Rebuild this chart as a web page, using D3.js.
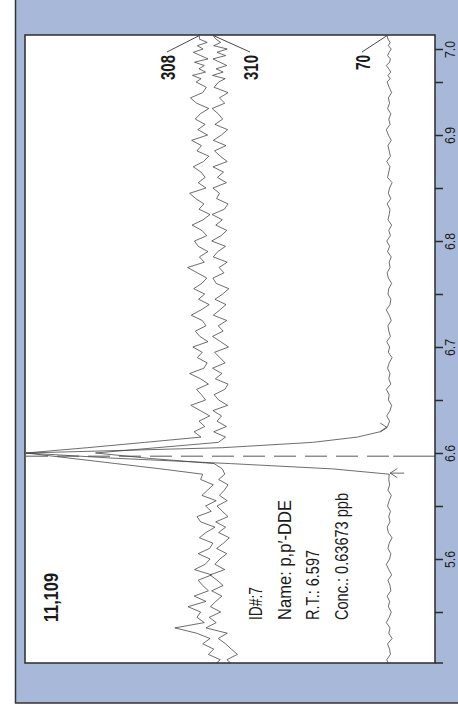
<!DOCTYPE html>
<html><head><meta charset="utf-8">
<script src="https://cdn.jsdelivr.net/npm/d3@7"></script>
<style>
html,body{margin:0;padding:0;background:#fff;}
svg{display:block;}
text{font-family:"Liberation Sans",Arial,Helvetica,sans-serif;fill:#1a1a1a;}
</style></head><body>
<svg id="chart" width="458" height="712"></svg>
<script>
// Retention-time grid (min): one scan every 0.005 min
const rtStart = 6.4, rtStep = 0.005, nScans = 125;
const rt = d3.range(nScans).map(i => +(rtStart + i * rtStep).toFixed(3));

// Relative abundance (% of full scale) of each extracted ion, one value per scan
const ion308 = [
  54.0, 52.5, 55.4, 54.1, 56.8,
  55.0, 58.3, 63.6,
  56.4, 58.2, 57.3, 60.4, 56.0,
  58.9, 55.4, 56.8, 57.9, 54.6, 58.8, 56.2, 55.0,
  57.9, 55.1, 54.3, 57.6, 56.0, 53.8, 57.3, 58.2, 54.7, 56.1, 53.5, 57.0, 55.6,
  54.2, 57.3,
  56.8, 67, 78, 89, 100, 85, 71, 57.2,
  58.9, 56.3, 57.7, 55.1, 57.4, 59.7, 56.1, 57.1, 58.3, 55.4,
  57.3, 60.0, 56.5, 55.7, 58.1, 56.9, 59.2, 55.5, 57.5, 58.6,
  56.0, 56.9, 59.6, 57.2, 55.2, 57.8, 56.3, 59.0, 57.0, 55.8,
  58.1, 60.5, 56.4, 57.6, 55.5, 57.9, 58.8, 55.8, 57.0, 59.4,
  56.7, 55.0, 57.7, 56.5, 58.5, 60.0, 56.0, 57.9, 56.2, 57.2,
  59.1, 56.6, 55.3, 58.2, 57.1, 59.5, 55.6, 58.0, 56.2, 58.6,
  57.4, 55.3, 58.3, 59.8, 56.8, 55.9, 58.4, 57.2, 59.3, 56.1,
  57.7, 56.4, 58.8, 55.5, 57.3, 59.1, 56.7, 58.1, 55.7, 57.6, 57.6
];
const ion310 = [
  49.4, 50.9, 48.3, 49.8, 51.2,
  53.0, 50.8, 56.0,
  53.5, 55.2, 52.4, 54.9, 53.6,
  52.1, 54.6, 51.8, 53.3, 55.0, 51.4, 53.8, 52.6,
  50.9, 53.4, 51.7, 50.3, 52.9, 51.2, 53.6, 50.6, 52.0, 53.3, 50.8, 52.7, 51.5,
  50.6, 52.9, 51.4,
  52.0, 54, 70, 83, 68, 53, 51.2,
  54.1, 51.0, 53.3, 52.2, 54.3, 50.7, 52.9, 54.0, 51.4, 50.6,
  53.7, 52.1, 54.4, 51.3, 52.6, 53.9, 50.5, 52.4, 54.4, 51.8,
  53.0, 50.9, 54.2, 52.6, 51.1, 53.8, 51.9, 50.4, 53.5, 54.3,
  51.6, 52.8, 50.8, 54.2, 53.1, 51.2, 54.6, 52.3, 50.9, 53.6,
  52.0, 54.5, 51.5, 50.6, 53.4, 52.7, 54.3, 51.0, 53.2, 51.7,
  54.3, 50.8, 52.5, 53.9, 51.1, 54.2, 52.2, 50.7, 53.8, 51.9,
  53.0, 54.5, 51.4, 52.7, 50.6, 54.0, 52.9, 51.3, 54.4, 51.8,
  53.5, 50.9, 52.6, 54.3, 51.2, 53.3, 50.8, 54.1, 52.4, 53.6, 54.2
];
const ion70 = [
  11.2, 11.8, 10.9, 11.1, 11.6, 10.5, 11.3, 11.0, 11.9, 11.2,
  10.7, 11.4, 11.1, 11.7, 10.8, 11.0, 11.5, 10.6, 11.3, 11.9,
  11.1, 10.8, 11.5, 11.2, 10.5, 11.4, 11.7, 11.0, 11.3, 10.9,
  11.6, 11.2, 10.7, 11.5, 11.1, 11.3,
  11.2, 25, 50, 78, 100, 52, 30, 19, 13.5, 11.6,
  11.1, 11.8, 11.0, 10.6, 11.4, 11.2, 11.9, 10.8, 11.3, 11.0,
  11.6, 11.2, 10.5, 11.4, 11.1, 11.8, 10.9, 11.3, 11.5, 10.7,
  11.2, 11.9, 11.0, 10.8, 11.5, 11.3, 10.6, 11.4, 11.7, 11.0,
  11.2, 10.7, 11.6, 11.1, 11.8, 10.9, 11.3, 10.6, 11.5, 11.2,
  11.0, 11.7, 10.8, 11.4, 11.1, 10.5, 11.6, 11.3, 11.0, 11.8,
  10.9, 11.2, 11.5, 10.7, 11.4, 11.9, 11.0, 11.3, 10.8, 11.6,
  11.1, 11.4, 10.6, 11.2, 11.7, 11.0, 11.5, 10.8, 11.3, 11.9,
  11.1, 10.9, 11.6, 11.2, 10.7, 11.4, 11.0, 11.5, 11.7
];
const traceNames = ["308", "310", "70"];

// Axis ticks (min) and the texts printed at the labelled ones
const axisTicks = [6.45, 6.5, 6.55, 6.6, 6.65, 6.7, 6.75, 6.8, 6.85, 6.9, 6.95, 7.0];
const labelledTicks = [6.5, 6.6, 6.7, 6.8, 6.9, 7.0];
const tickTexts = ["5.6", "6.6", "6.7", "6.8", "6.9", "7.0"];

// Integration and compound report
const peakStart = 6.581, peakEnd = 6.624, peakRT = 6.597;
const fullScale = "11,109";
const infoLines = ["ID#:7", "Name: p,p\u2032-DDE", "R.T.: 6.597", "Conc.: 0.63673 ppb"];

// ---- layout ----
const svg = d3.select("#chart");
const frame = {left: 25, right: 435, top: 35, bottom: 663};
const ink = "#2b2b2b";

// blue backing panel
svg.append("rect")
  .attr("x", 15.5).attr("y", -5).attr("width", 460).attr("height", 708)
  .attr("fill", "#a8b8d9").attr("stroke", "#333").attr("stroke-width", 1.5);

// white plotting area
svg.append("rect")
  .attr("x", frame.left).attr("y", frame.top)
  .attr("width", frame.right - frame.left).attr("height", frame.bottom - frame.top)
  .attr("fill", "#fff");

// time runs upward along the right edge, abundance grows to the left
const tScale = d3.scaleLinear().domain([6.4, 6.95, 7.0]).range([665, 82, 49]);
const aScale = d3.scaleLinear().domain([0, 100]).range([frame.right, 26]);

svg.append("defs").append("clipPath").attr("id", "plotClip")
  .append("rect").attr("x", frame.left).attr("y", frame.top)
  .attr("width", frame.right - frame.left).attr("height", frame.bottom - frame.top);

const plot = svg.append("g").attr("clip-path", "url(#plotClip)");

const line = d3.line()
  .x(d => aScale(d[1]))
  .y(d => tScale(d[0]));

const traces = [ion308, ion310, ion70];
traces.forEach(vals => {
  plot.append("path")
    .datum(rt.map((t, i) => [t, vals[i]]))
    .attr("d", line)
    .attr("fill", "none")
    .attr("stroke", "#3c3c3c")
    .attr("stroke-width", 0.75)
    .attr("stroke-linejoin", "miter");
});

// retention-time marker
const yRT = tScale(peakRT);
const baseX70 = aScale(d3.mean(ion70.slice(0, 30)));
plot.append("line")
  .attr("x1", aScale(100)).attr("x2", baseX70 + 4)
  .attr("y1", yRT).attr("y2", yRT)
  .attr("stroke", "#444").attr("stroke-width", 0.9)
  .attr("stroke-dasharray", "22,9");
plot.append("line")
  .attr("x1", baseX70 + 4).attr("x2", frame.right)
  .attr("y1", yRT).attr("y2", yRT)
  .attr("stroke", "#444").attr("stroke-width", 0.9);

// integration start / end markers on the 70 trace
const yEnd = tScale(peakEnd), yStart = tScale(peakStart);
plot.append("path")
  .attr("d", `M${baseX70 - 9},${yEnd - 4.5}L${baseX70 - 2},${yEnd}L${baseX70 - 9},${yEnd + 4.5}`)
  .attr("fill", "none").attr("stroke", "#444").attr("stroke-width", 0.8);
plot.append("path")
  .attr("d", `M${baseX70 + 8},${yStart - 4.5}L${baseX70 + 1},${yStart}L${baseX70 + 8},${yStart + 4.5}M${baseX70 + 1},${yStart}L${baseX70 + 15},${yStart}`)
  .attr("fill", "none").attr("stroke", "#444").attr("stroke-width", 0.8);

// frame
svg.append("rect")
  .attr("x", frame.left).attr("y", frame.top)
  .attr("width", frame.right - frame.left).attr("height", frame.bottom - frame.top)
  .attr("fill", "none").attr("stroke", ink).attr("stroke-width", 1.5);
svg.append("line")
  .attr("x1", frame.right).attr("x2", frame.right + 8)
  .attr("y1", frame.bottom).attr("y2", frame.bottom)
  .attr("stroke", ink).attr("stroke-width", 1.5);

// time axis on the right
const axis = d3.axisRight(tScale)
  .tickValues(axisTicks)
  .tickSize(8)
  .tickFormat(d => {
    const k = labelledTicks.findIndex(v => Math.abs(v - d) < 1e-9);
    return k < 0 ? "" : tickTexts[k];
  });
const gAxis = svg.append("g").attr("transform", `translate(${frame.right},0)`).call(axis);
gAxis.select(".domain").remove();
gAxis.selectAll(".tick line").attr("stroke", ink).attr("stroke-width", 1.5);
gAxis.selectAll(".tick text")
  .attr("x", null).attr("dy", null)
  .attr("transform", "translate(19.5,0) rotate(-90)")
  .attr("text-anchor", "middle")
  .attr("font-size", 15)
  .attr("fill", "#1a1a1a")
  .attr("font-family", '"Liberation Sans",Arial,sans-serif')
  .each(function() { if (this.textContent) d3.select(this).attr("textLength", 17).attr("lengthAdjust", "spacingAndGlyphs"); });

// rotated text helper (reads bottom to top)
function vtext(x, y, str, opts) {
  const t = svg.append("text")
    .attr("transform", `translate(${x},${y}) rotate(-90)`)
    .attr("text-anchor", opts.anchor || "start")
    .attr("font-size", opts.size)
    .attr("font-weight", opts.weight || "normal")
    .text(str);
  if (opts.len) t.attr("textLength", opts.len).attr("lengthAdjust", "spacingAndGlyphs");
  return t;
}

// ion labels with leader lines to where each trace leaves the top edge
const labelSpots = [
  {x: 175, y: 67.5, len: 25, lx: 167, ly: 52},
  {x: 258, y: 67.5, len: 25, lx: 250, ly: 52},
  {x: 370, y: 62.5, len: 15, lx: 362, ly: 52}
];
traces.forEach((vals, k) => {
  const s = labelSpots[k];
  vtext(s.x, s.y, traceNames[k], {size: 21, weight: "bold", anchor: "middle", len: s.len});
  svg.append("line")
    .attr("x1", s.lx).attr("y1", s.ly)
    .attr("x2", aScale(vals[vals.length - 1])).attr("y2", frame.top + 0.5)
    .attr("stroke", "#333").attr("stroke-width", 0.9);
});

// full-scale abundance
vtext(58, 597.5, fullScale, {size: 21, weight: "bold", anchor: "middle", len: 49});

// compound report
const infoLens = [33, 120, 70, 127];
infoLines.forEach((s, i) => {
  vtext(262 + i * 28.5, 620, s, {size: 19, len: infoLens[i]});
});
</script>
</body></html>
